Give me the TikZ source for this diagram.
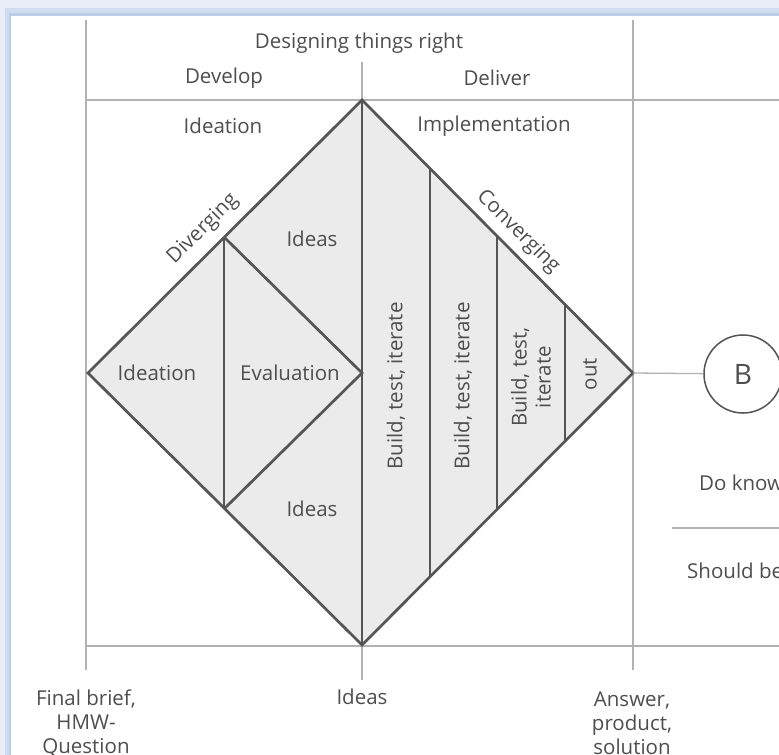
\documentclass[tikz,border=0pt]{standalone}
\usepackage{fontspec}
\setmainfont{Open Sans}
\usepackage{tikz}

\definecolor{guidegray}{HTML}{B2B2B2}
\definecolor{edgegray}{HTML}{555555}
\definecolor{phasefill}{HTML}{EBEBEB}
\definecolor{labelgray}{HTML}{4E4E4E}
\definecolor{shadowblue}{HTML}{BCCDE9}

\tikzset{
  guide/.style={draw=guidegray, line width=1.1pt},
  phase/.style={draw=edgegray, line width=2.3pt, line join=miter},
  lbl/.style={text=labelgray, inner sep=0pt, align=center,
              font=\fontsize{17.5}{20.5}\selectfont},
}

\begin{document}
\begin{tikzpicture}[x=0.03cm, y=-0.03cm]

        \useasboundingbox (0,0) rectangle (779,755);
        \clip (0,0) rectangle (779,755);

        %Window shadow
        \fill [shadowblue!35]  (0,0)   rectangle (779,755);
        \fill [shadowblue!70]  (5,8)   rectangle (779,755);
        \fill [shadowblue]     (9,13)  rectangle (779,755);
        \fill [white]          (11,16) rectangle (779,755);

        %Guide lines
        \draw [guide]  (86,20)   -- (86,670);
        \draw [guide]  (633,20)  -- (633,670);
        \draw [guide]  (362,62)  -- (362,680);
        \draw [guide]  (86,100)  -- (779,100);
        \draw [guide]  (86,646)  -- (779,646);

        %Header
        \node [lbl] (title)          at (359,43)  {Designing things right};
        \node [lbl] (develop)        at (224,78)  {Develop};
        \node [lbl] (deliver)        at (497,78)  {Deliver};
        \node [lbl] (ideationtop)    at (223,126) {Ideation};
        \node [lbl] (implementation) at (494,126) {Implementation};

        %Double diamond
        \coordinate (dtop)   at (362,100);
        \coordinate (dright) at (633,373);
        \coordinate (dbot)   at (362,645);
        \coordinate (dleft)  at (88,373);
        \fill [phasefill] (dtop) -- (dright) -- (dbot) -- (dleft) -- cycle;

        %Develop half
        \draw [phase]  (224,237) -- (224,509);
        \draw [phase]  (224,237) -- (362,373) -- (224,509);

        %Deliver half
        \draw [phase]  (dtop)    -- (dbot);
        \draw [phase]  (430,168) -- (430,577);
        \draw [phase]  (497,235) -- (497,510);
        \draw [phase]  (565,303) -- (565,442);

        \draw [phase] (dtop) -- (dright) -- (dbot) -- (dleft) -- cycle;

        \node [lbl] (ideation)   at (157,373) {Ideation};
        \node [lbl] (evaluation) at (290,373) {Evaluation};
        \node [lbl] (ideasup)    at (312,239) {Ideas};
        \node [lbl] (ideaslow)   at (312,509) {Ideas};
        \node [lbl, rotate=45]  (diverging)  at (203,229) {Diverging};
        \node [lbl, rotate=-45] (converging) at (518,232) {Converging};

        \node [lbl, rotate=90] (build1) at (396,386) {Build, test, iterate};
        \node [lbl, rotate=90] (build2) at (463,386) {Build, test, iterate};
        \node [lbl, rotate=90] (build3) at (531,377) {Build, test,\\iterate};
        \node [lbl, rotate=90] (out)    at (590,374) {out};

        %Outcome B
        \node [circle, draw=edgegray, line width=1.3pt, minimum size=2.34cm,
               inner sep=0pt, text=labelgray, font=\fontsize{24}{24}\selectfont]
               (b) at (743,374) {B};
        \draw [guide] (dright) -- (b);

        \node [lbl, anchor=west] (doknow)   at (699,483) {Do know};
        \draw [guide]  (672,528) -- (779,528);
        \node [lbl, anchor=west] (shouldbe) at (687,571) {Should be};

        %Bottom labels
        \node [lbl] (finalbrief) at (86,723)  {Final brief,\\HMW-\\Question};
        \node [lbl] (ideasout)   at (362,697) {Ideas};
        \node [lbl] (answer)     at (632,723) {Answer,\\product,\\solution};

\end{tikzpicture}
\end{document}
